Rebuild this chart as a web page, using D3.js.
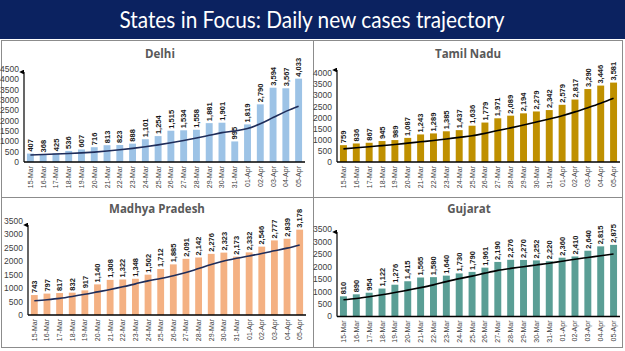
<!DOCTYPE html>
<html>
<head>
<meta charset="utf-8">
<script src="https://cdn.jsdelivr.net/npm/d3@7"></script>
<style>
  body { margin: 0; background: #fff; }
  svg { display: block; }
  .tick-label { font-family: "Liberation Sans", Arial, sans-serif; font-size: 8.5px; fill: #404040; }
  .x-label { font-family: "Liberation Sans Narrow", "Liberation Sans", Arial, sans-serif; font-size: 7px; fill: #404040; }
  .val-label { font-family: "Liberation Sans Narrow", "Liberation Sans", Arial, sans-serif; font-size: 7.5px; font-weight: bold; fill: #1a1a1a; }
  .panel-title { font-family: "Open Sans", "Liberation Sans", sans-serif; font-size: 11.5px; font-weight: bold; fill: #595959; }
</style>
</head>
<body>
<svg id="chart" width="625" height="351"></svg>
<script>
// dates shown on every panel
var dates = ['15-Mar','16-Mar','17-Mar','18-Mar','19-Mar','20-Mar','21-Mar','22-Mar','23-Mar','24-Mar','25-Mar',
  '26-Mar','27-Mar','28-Mar','29-Mar','30-Mar','31-Mar','01-Apr','02-Apr','03-Apr','04-Apr','05-Apr'];

var delhiCases = [407,368,425,536,607,716,813,823,888,1101,1254,1515,1534,1558,1881,1901,995,1819,2790,3594,3567,4033];
var delhiTrend = [340,360,385,410,440,480,530,590,660,740,830,930,1040,1160,1290,1420,1500,1620,1850,2150,2450,2700];

var tnCases = [759,836,867,945,989,1087,1243,1289,1385,1437,1636,1779,1971,2089,2194,2279,2342,2579,2817,3290,3446,3581];
var tnTrend = [590,640,690,740,790,850,910,970,1040,1110,1180,1290,1420,1540,1670,1800,1940,2090,2260,2450,2650,2870];

var mpCases = [743,797,817,832,917,1140,1308,1322,1348,1502,1712,1885,2091,2142,2276,2323,2173,2332,2546,2777,2839,3178];
var mpTrend = [530,570,620,690,770,860,950,1050,1160,1270,1360,1460,1580,1730,1880,2010,2110,2200,2290,2390,2490,2610];

var gujCases = [810,890,954,1122,1276,1415,1565,1580,1640,1730,1790,1961,2190,2276,2270,2252,2220,2360,2410,2640,2815,2875];
var gujTrend = [670,720,790,870,960,1060,1160,1270,1400,1520,1620,1740,1850,1930,2000,2070,2140,2220,2300,2370,2440,2510];

var delhiTicks = [0,500,1000,1500,2000,2500,3000,3500,4000,4500];
var tnTicks = [0,500,1000,1500,2000,2500,3000,3500,4000];
var mpTicks = [0,500,1000,1500,2000,2500,3000,3500];
var gujTicks = [0,500,1000,1500,2000,2500,3000,3500];

var svg = d3.select('#chart');

// header bar
svg.append('rect').attr('x',0).attr('y',0).attr('width',625).attr('height',39).attr('fill','#0b2260');
svg.append('text')
  .attr('x', 312).attr('y', 28)
  .attr('text-anchor','middle')
  .attr('fill','#fff')
  .attr('font-family','Lato, "Open Sans", sans-serif')
  .attr('font-size', 23)
  .attr('textLength', 385)
  .attr('lengthAdjust', 'spacingAndGlyphs')
  .text('States in Focus: Daily new cases trajectory');

// panel frames
var frame = svg.append('g').attr('stroke','#8c8c8c').attr('stroke-width',1).attr('fill','none');
frame.append('rect').attr('x',1.5).attr('y',40.5).attr('width',621).attr('height',307);
frame.append('line').attr('x1',1.5).attr('x2',622.5).attr('y1',197.5).attr('y2',197.5);
frame.append('line').attr('x1',313.5).attr('x2',313.5).attr('y1',40.5).attr('y2',347.5);

svg.append('defs').append('marker')
  .attr('id','arrow')
  .attr('viewBox','0 0 10 10')
  .attr('refX',5).attr('refY',10)
  .attr('markerWidth',4).attr('markerHeight',5)
  .attr('orient','auto-start-reverse')
  .append('path').attr('d','M0,10 L5,0 L10,10 Z').attr('fill','#000');

function drawPanel(cfg) {
  var g = svg.append('g');

  var x = d3.scaleBand()
    .domain(dates)
    .range([cfg.left, cfg.right])
    .paddingInner(0.46)
    .paddingOuter(0.23);

  var y = d3.scaleLinear()
    .domain([0, d3.max(cfg.ticks)])
    .range([cfg.base, cfg.top]);

  g.append('text')
    .attr('class','panel-title')
    .attr('x', cfg.titleX).attr('y', cfg.titleY)
    .attr('text-anchor','middle')
    .text(cfg.name);

  // y tick labels only, no tick marks
  g.selectAll('.tick-label')
    .data(cfg.ticks)
    .join('text')
    .attr('class','tick-label')
    .attr('x', cfg.left - 5)
    .attr('y', d => y(d))
    .attr('dy','0.35em')
    .attr('text-anchor','end')
    .text(d => d);

  g.selectAll('rect.bar')
    .data(cfg.cases)
    .join('rect')
    .attr('class','bar')
    .attr('x', (d,i) => x(dates[i]))
    .attr('width', x.bandwidth())
    .attr('y', d => y(d))
    .attr('height', d => cfg.base - y(d))
    .attr('fill', cfg.color);

  g.selectAll('.val-label')
    .data(cfg.cases)
    .join('text')
    .attr('class','val-label')
    .attr('transform', (d,i) => `translate(${x(dates[i]) + x.bandwidth()/2 + 2.7},${y(d) - 2}) rotate(-90)`)
    .text(d => d3.format(',')(d));

  var line = d3.line()
    .x((d,i) => x(dates[i]) + x.bandwidth()/2)
    .y(d => y(d))
    .curve(d3.curveMonotoneX);

  g.append('path')
    .datum(cfg.trend)
    .attr('d', line)
    .attr('fill','none')
    .attr('stroke', cfg.lineColor)
    .attr('stroke-width', 1.6);

  // axes
  g.append('line')
    .attr('x1', cfg.left).attr('x2', cfg.right)
    .attr('y1', cfg.base).attr('y2', cfg.base)
    .attr('stroke','#000').attr('stroke-width',1.5);
  g.append('line')
    .attr('x1', cfg.left).attr('x2', cfg.left)
    .attr('y1', cfg.base).attr('y2', cfg.arrowTop)
    .attr('stroke','#000').attr('stroke-width',1.2)
    .attr('marker-end','url(#arrow)');

  g.selectAll('.x-label')
    .data(dates)
    .join('text')
    .attr('class','x-label')
    .attr('transform', d => `translate(${x(d) + x.bandwidth()/2 + 2.5},${cfg.base + 4}) rotate(-90)`)
    .attr('text-anchor','end')
    .text(d => d);
}

drawPanel({name:'Delhi', cases: delhiCases, trend: delhiTrend, ticks: delhiTicks,
  color:'#9dc3e6', lineColor:'#1f2d5a', left:24, right:305, base:162, top:69, arrowTop:72,
  titleX:160, titleY:58});
drawPanel({name:'Tamil Nadu', cases: tnCases, trend: tnTrend, ticks: tnTicks,
  color:'#bf9000', lineColor:'#000', left:337, right:620, base:162, top:73.3, arrowTop:70,
  titleX:468, titleY:58});
drawPanel({name:'Madhya Pradesh', cases: mpCases, trend: mpTrend, ticks: mpTicks,
  color:'#f4b183', lineColor:'#1f2d5a', left:28, right:306, base:315, top:221, arrowTop:225,
  titleX:157, titleY:213});
drawPanel({name:'Gujarat', cases: gujCases, trend: gujTrend, ticks: gujTicks,
  color:'#5a9e95', lineColor:'#000', left:337, right:620, base:316.5, top:229.3, arrowTop:232,
  titleX:469, titleY:213});
</script>
</body>
</html>
